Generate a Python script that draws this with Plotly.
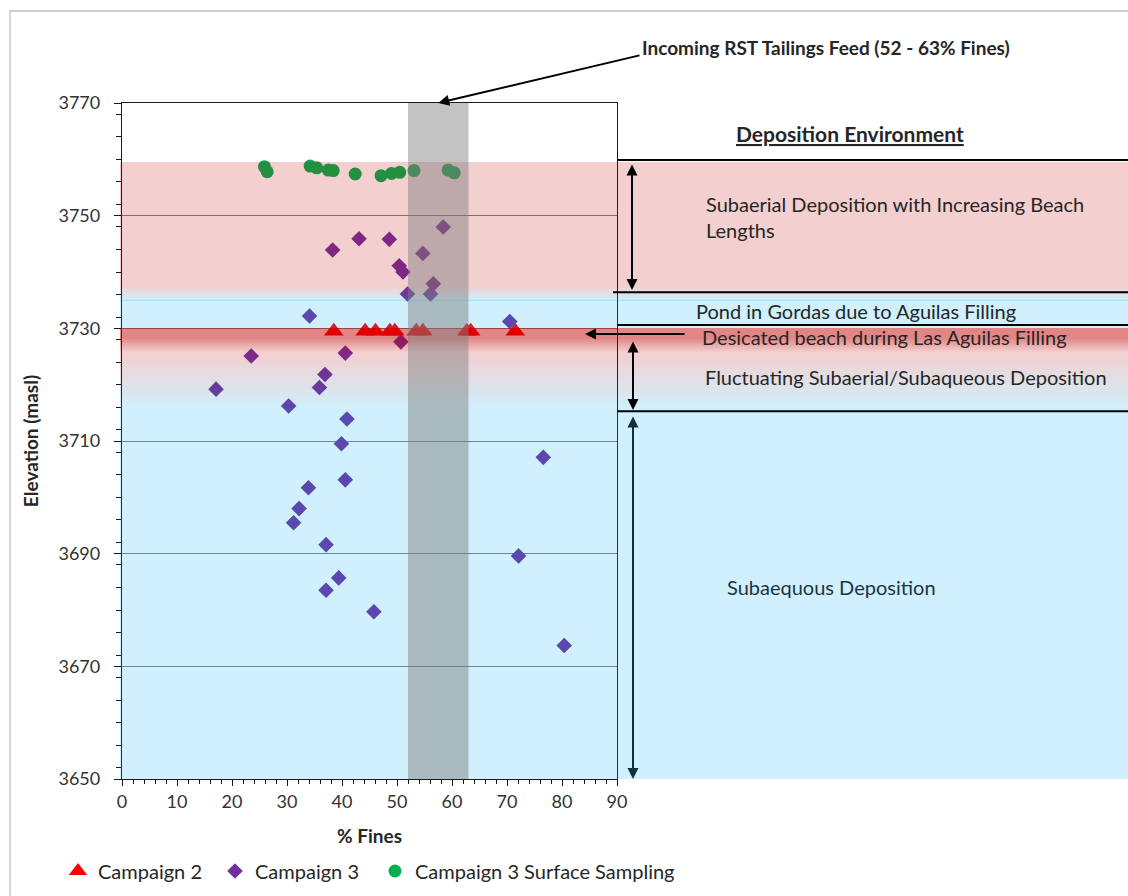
import plotly.graph_objects as go

# ---------------- data ----------------
# Campaign 2 samples (% fines, elevation masl)
c2_fines = [38.5, 44.2, 46.1, 48.7, 49.6, 53.5, 54.7, 62.7, 63.4, 71.5]
c2_elev = [3729.5, 3729.5, 3729.5, 3729.5, 3729.5, 3729.5, 3729.5, 3729.5, 3729.5, 3729.5]

# Campaign 3 samples
c3_fines = [58.4, 43.1, 48.6, 38.3, 54.7, 50.4, 51.1, 56.6, 51.9, 56.1, 34.1, 70.5,
            50.7, 23.5, 40.6, 36.9, 35.9, 17.1, 30.3, 40.9, 39.9, 76.6, 40.6, 33.9,
            32.2, 31.2, 37.1, 72.1, 39.4, 37.1, 45.8, 80.4]
c3_elev = [3748.0, 3745.9, 3745.8, 3743.9, 3743.3, 3741.1, 3740.0, 3737.9, 3736.1, 3736.1, 3732.2, 3731.2,
           3727.6, 3725.1, 3725.6, 3721.8, 3719.5, 3719.2, 3716.2, 3713.9, 3709.5, 3707.1, 3703.1, 3701.7,
           3698.0, 3695.5, 3691.6, 3689.6, 3685.7, 3683.5, 3679.7, 3673.7]

# Campaign 3 surface sampling
c3s_fines = [25.9, 26.4, 34.2, 35.4, 37.5, 38.4, 42.4, 47.1, 49.0, 50.5, 53.1, 59.3, 60.4]
c3s_elev = [3758.7, 3757.8, 3758.8, 3758.5, 3758.1, 3758.0, 3757.4, 3757.1, 3757.5, 3757.7, 3758.0, 3758.1, 3757.6]

# Incoming tailings feed range (% fines)
feed_fines = [52, 63]

# Deposition environment zone boundaries (elevation, masl)
zone_tops = {
    "subaerial": 3759.5,
    "pond": 3735.0,
    "desiccated": 3730.0,
    "fluctuating": 3728.3,
    "subaqueous": 3715.5,
}
env_lines = [3759.9, 3736.4, 3730.6, 3715.3]

x_range = [0, 90]
y_range = [3650, 3770]
x_ticks = [0, 10, 20, 30, 40, 50, 60, 70, 80, 90]
y_ticks = [3650, 3670, 3690, 3710, 3730, 3750, 3770]

FONT = "Lato"
TXT = "#262626"

# ---------------- layout geometry ----------------
W, H = 1128, 896
ML, MR, MT, MB = 122, 511, 103, 117
PW, PH = W - ML - MR, H - MT - MB


def px_x(p):
    """page pixel column -> paper x"""
    return (p - ML) / PW


def px_y(p):
    """page pixel row -> paper y"""
    return (H - MB - p) / PH


def row_of(elev):
    return MT + (y_range[1] - elev) / (y_range[1] - y_range[0]) * PH


def elev_of(row):
    return y_range[1] - (row - MT) / PH * (y_range[1] - y_range[0])


PINK = (192, 0, 0, 0.19)
BLUE = (0, 176, 240, 0.19)
DRED = (192, 0, 0, 0.48)


def rgba(c):
    return "rgba(%d,%d,%d,%.3f)" % (round(c[0]), round(c[1]), round(c[2]), c[3])


def mix(a, b, t):
    return tuple(a[i] + (b[i] - a[i]) * t for i in range(4))


# colour stops from top to bottom (elevation, colour)
stops = [
    (zone_tops["subaerial"], PINK),
    (3737.6, PINK),
    (zone_tops["pond"], BLUE),
    (zone_tops["desiccated"], BLUE),
    (zone_tops["desiccated"] - 0.001, DRED),
    (zone_tops["fluctuating"], DRED),
    (3725.8, PINK),
    (zone_tops["subaqueous"], BLUE),
    (y_range[0], BLUE),
]

BAND_X0, BAND_X1 = px_x(120), px_x(1140)

shapes = []


def band(e_top, e_bot, color):
    shapes.append(dict(type="rect", xref="paper", yref="y", x0=BAND_X0, x1=BAND_X1,
                       y0=e_bot, y1=e_top, fillcolor=rgba(color), line=dict(width=0),
                       layer="above"))


for (e0, c0), (e1, c1) in zip(stops[:-1], stops[1:]):
    r0, r1 = round(row_of(e0)), round(row_of(e1))
    if r1 <= r0:
        continue
    if c0 == c1:
        band(elev_of(r0), elev_of(r1), c0)
    else:
        n = r1 - r0
        for k in range(n):
            band(elev_of(r0 + k), elev_of(r0 + k + 1), mix(c0, c1, (k + 0.5) / n))

# thin edge at top of the pond band
shapes.append(dict(type="line", xref="paper", yref="y", x0=BAND_X0, x1=BAND_X1,
                   y0=zone_tops["pond"], y1=zone_tops["pond"],
                   line=dict(color="rgba(0,176,240,0.25)", width=1), layer="above"))

# incoming feed range
shapes.append(dict(type="rect", xref="x", yref="y", x0=feed_fines[0], x1=feed_fines[1],
                   y0=y_range[0], y1=y_range[1], fillcolor="rgba(128,128,128,0.47)",
                   line=dict(width=0), layer="above"))

# environment divider lines on the right panel
for i, e in enumerate(env_lines):
    shapes.append(dict(type="line", xref="paper", yref="y", x0=px_x(613 if i == 1 else 617),
                       x1=px_x(1140), y0=e, y1=e, line=dict(color="black", width=2),
                       layer="above"))

# chart frame
shapes.append(dict(type="rect", xref="paper", yref="paper", x0=px_x(10), x1=px_x(1160),
                   y0=px_y(920), y1=px_y(11), line=dict(color="#BFBFBF", width=1.3),
                   fillcolor="rgba(0,0,0,0)", layer="below"))

fig = go.Figure()
fig.add_trace(go.Scatter(x=c2_fines, y=c2_elev, mode="markers", name="Campaign 2",
                         legend="legend",
                         marker=dict(symbol="triangle-up", size=17, color="#FF0000",
                                     line=dict(width=0))))
fig.add_trace(go.Scatter(x=c3_fines, y=c3_elev, mode="markers", name="Campaign 3",
                         legend="legend2",
                         marker=dict(symbol="diamond", size=12, color="#7030A0",
                                     line=dict(width=0))))
fig.add_trace(go.Scatter(x=c3s_fines, y=c3s_elev, mode="markers",
                         name="Campaign 3 Surface Sampling", legend="legend3",
                         marker=dict(symbol="circle", size=13, color="#00B050",
                                     line=dict(width=0))))

annotations = []


def label(text, x, y, size=20, color=TXT, anchor="left", **kw):
    annotations.append(dict(text=text, xref="paper", yref="paper", x=x, y=y,
                            xanchor=anchor, yanchor="middle", showarrow=False,
                            font=dict(family=FONT, size=size, color=color), align="left", **kw))


label("<b>Incoming RST Tailings Feed (52 - 63% Fines)</b>", px_x(640), px_y(47), size=19)
label("<b><u>Deposition Environment</u></b>", px_x(850), px_y(133), size=21, anchor="center")
label("Subaerial Deposition with Increasing Beach<br>Lengths", px_x(704), px_y(217))
label("Pond in Gordas due to Aguilas Filling", px_x(694), px_y(311))
label("Desicated beach during Las Aguilas Filling", px_x(700), px_y(337))
label("Fluctuating Subaerial/Subaqueous Deposition", px_x(703), px_y(377))
label("Subaequous Deposition", px_x(725), px_y(587), color="#1E3444")

# arrow pointing at the feed band
annotations.append(dict(text="", x=sum(feed_fines) / 2, y=y_range[1], xref="x", yref="y",
                        ax=(641 - ML) / PW * (x_range[1] - x_range[0]), axref="x",
                        ay=elev_of(55), ayref="y", showarrow=True, arrowhead=2,
                        arrowsize=1.1, arrowwidth=2, arrowcolor="black"))

# arrow to the desiccated beach layer
annotations.append(dict(text="", x=px_x(585), y=3729.0, xref="paper", yref="y",
                        ax=101, ay=0, axref="pixel", ayref="pixel", showarrow=True,
                        arrowhead=2, arrowsize=1.1, arrowwidth=2, arrowcolor="black"))

# double-headed extent arrows
extent_arrows = [
    (632, elev_of(163), elev_of(290), "black"),
    (633, elev_of(340), elev_of(410), "black"),
    (633, elev_of(415), y_range[0], "#0F2F3C"),
]
for xp, e_top, e_bot, col in extent_arrows:
    annotations.append(dict(text="", x=px_x(xp), y=e_bot, xref="paper", yref="y",
                            ax=0, axref="pixel", ay=e_top, ayref="y", showarrow=True,
                            arrowhead=2, startarrowhead=2, arrowside="end+start",
                            arrowsize=1.1, startarrowsize=1.1, arrowwidth=2,
                            arrowcolor=col, standoff=0, startstandoff=0))


def legend_box(left_px):
    return dict(orientation="h", x=px_x(left_px), y=px_y(871), xanchor="left", yanchor="middle",
                font=dict(family=FONT, size=20, color=TXT), bgcolor="rgba(0,0,0,0)",
                itemwidth=30, borderwidth=0)


fig.update_layout(
    width=W, height=H,
    margin=dict(l=ML, r=MR, t=MT, b=MB, autoexpand=False),
    plot_bgcolor="white", paper_bgcolor="white",
    font=dict(family=FONT, size=18, color=TXT),
    shapes=shapes, annotations=annotations,
    showlegend=True,
    legend=legend_box(58),
    legend2=legend_box(215),
    legend3=legend_box(375),
)

fig.update_xaxes(
    range=x_range, tickvals=x_ticks, showgrid=False, zeroline=False,
    showline=True, linecolor="#1a1a1a", linewidth=1.3, mirror=True,
    ticks="outside", ticklen=6, tickcolor="#1a1a1a", tickwidth=1.3,
    minor=dict(dtick=2, ticks="outside", ticklen=4, tickcolor="#1a1a1a", tickwidth=1),
    tickfont=dict(family=FONT, size=18, color="#333333"),
    title=dict(text="<b>% Fines</b>", font=dict(family=FONT, size=19, color=TXT), standoff=18),
)
fig.update_yaxes(
    range=y_range, tickvals=y_ticks, showgrid=True, gridcolor="#7F7F7F", gridwidth=1,
    zeroline=False, showline=True, linecolor="#1a1a1a", linewidth=1.3, mirror=True,
    ticks="outside", ticklen=7, tickcolor="#1a1a1a", tickwidth=1.3,
    minor=dict(dtick=4, ticks="outside", ticklen=5, tickcolor="#1a1a1a", tickwidth=1, showgrid=False),
    tickfont=dict(family=FONT, size=18, color="#333333"), ticklabelstandoff=10,
    title=dict(text="<b>Elevation (masl)</b>", font=dict(family=FONT, size=19, color=TXT), standoff=14),
)

fig.write_html("out.html")
